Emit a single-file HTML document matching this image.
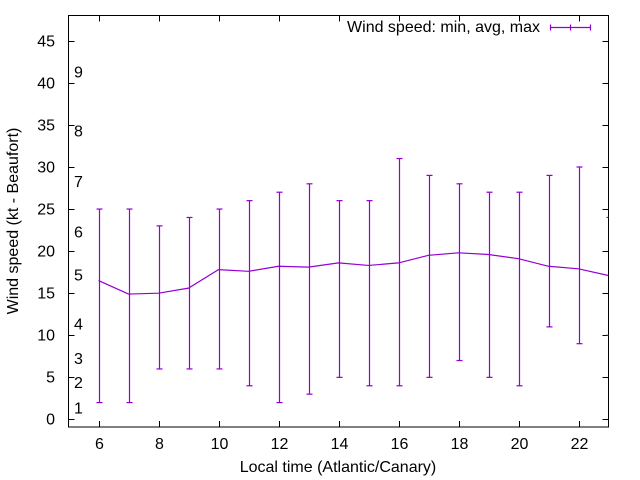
<!DOCTYPE html>
<html><head><meta charset="utf-8"><style>
html,body{margin:0;padding:0;background:#fff;}
svg{display:block;font-family:"Liberation Sans",sans-serif;}
</style></head><body>
<svg id="chart" width="640" height="480" viewBox="0 0 640 480">
<g id="grid"></g>
<rect x="68.5" y="15.5" width="540" height="411.5" fill="none" stroke="#000" stroke-width="1"/>
<g id="axes"></g>
<g id="series"></g>
<text x="540" y="32" text-anchor="end" font-size="16">Wind speed: min, avg, max</text>
<g stroke="#9400d3" stroke-width="1.2">
<line x1="550" y1="27.5" x2="590" y2="27.5" stroke="#9400d3"/><line x1="550.5" y1="24.5" x2="550.5" y2="30.5" stroke="#9400d3"/><line x1="590.5" y1="24.5" x2="590.5" y2="30.5" stroke="#9400d3"/><line x1="570.5" y1="24.5" x2="570.5" y2="30.5" stroke="#9400d3"/>
</g>
<text x="338" y="472" text-anchor="middle" font-size="16">Local time (Atlantic/Canary)</text>
<text transform="translate(18,221) rotate(-90)" text-anchor="middle" font-size="16">Wind speed (kt - Beaufort)</text>
</svg>
<script>
const hours=[6,7,8,9,10,11,12,13,14,15,16,17,18,19,20,21,22,23];
const avgSpeed=[16.5,14.9,15,15.6,17.8,17.6,18.2,18.1,18.6,18.3,18.6,19.5,19.8,19.6,19.1,18.2,17.9,17.1];
const minSpeed=[2,2,6,6,6,4,2,3,5,4,4,5,7,5,4,11,9,10];
const maxSpeed=[25,25,23,24,25,26,27,28,26,26,31,29,28,27,27,29,30,24];
const xTicks=[6,8,10,12,14,16,18,20,22];
const yTicks=[0,5,10,15,20,25,30,35,40,45];
const beaufortLabels=["1","2","3","4","5","6","7","8","9"];
const beaufortKt=[1.3,4.3,7.2,11.3,17.1,22.2,28.2,34.2,41.2];
const X0=68.5,X1=608.5,Y0=427,Y1=15.5,xMin=5,xMax=23,yMin=-0.9,yMax=48;
const sx=v=>X0+(v-xMin)/(xMax-xMin)*(X1-X0);
const sy=v=>Y0-(v-yMin)/(yMax-yMin)*(Y0-Y1);
const NS="http://www.w3.org/2000/svg";
const PURPLE="#9400d3";
function mk(tag,attrs,parent){const e=document.createElementNS(NS,tag);for(const k in attrs)e.setAttribute(k,attrs[k]);parent.appendChild(e);return e;}
const axes=document.getElementById('axes'),series=document.getElementById('series');
xTicks.forEach(t=>{const x=Math.round(sx(t))+0.5;
 let l=mk('line',{x1:x,y1:Y0,x2:x,y2:Y0-6,stroke:'#000'},axes);
 
 
 l=mk('line',{x1:x,y1:Y1,x2:x,y2:Y1+6,stroke:'#000'},axes);
 
 
 const tx=mk('text',{x:x,y:449,'text-anchor':'middle','font-size':16},axes);tx.textContent=t;
 
 
});
yTicks.forEach(t=>{const y=Math.round(sy(t))+0.5;
 let l=mk('line',{x1:X0,y1:y,x2:X0+6,y2:y,stroke:'#000'},axes);
 
 
 l=mk('line',{x1:X1,y1:y,x2:X1-6,y2:y,stroke:'#000'},axes);
 
 
 const tx=mk('text',{x:55,y:y+5,'text-anchor':'end','font-size':16},axes);tx.textContent=t;
 
 
});
beaufortLabels.forEach((b,i)=>{const tx=mk('text',{x:74,y:sy(beaufortKt[i])+5,'font-size':16},axes);tx.textContent=b;
 
 
});
const clip=mk('clipPath',{id:'pc'},mk('defs',{},series));mk('rect',{x:X0,y:Y1,width:X1-X0,height:Y0-Y1},clip);
const g=mk('g',{'clip-path':'url(#pc)',fill:'none'},series);
const pl=mk('polyline',{points:hours.map((h,i)=>sx(h)+','+sy(avgSpeed[i])).join(' '),stroke:PURPLE,'stroke-width':1.2,fill:'none'},g);


hours.forEach((h,i)=>{const x=Math.round(sx(h))+0.5,ya=sy(minSpeed[i]),yb=sy(maxSpeed[i]);
 const eg=mk('g',{},g);
 
 
 const st={stroke:PURPLE,'stroke-width':1.2};
 mk('line',Object.assign({x1:x,y1:ya,x2:x,y2:yb},st),eg);
 mk('line',Object.assign({x1:x-3,y1:ya,x2:x+3,y2:ya},st),eg);
 mk('line',Object.assign({x1:x-3,y1:yb,x2:x+3,y2:yb},st),eg);
});
</script>
</body></html>
